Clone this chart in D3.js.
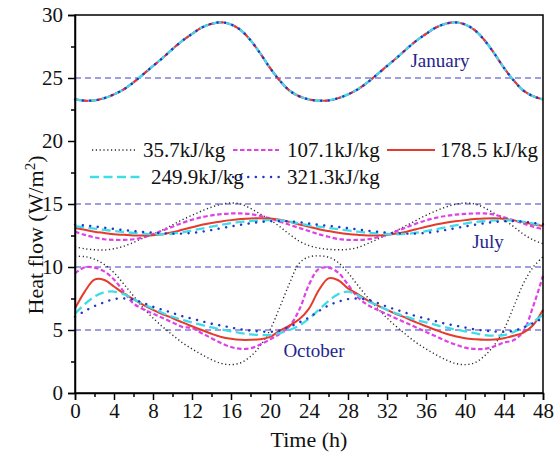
<!DOCTYPE html>
<html>
<head>
<meta charset="utf-8">
<script src="https://cdn.jsdelivr.net/npm/d3@7/dist/d3.min.js"></script>
<style>
  html, body { margin: 0; padding: 0; background: #fff; }
  svg { display: block; font-family: "Liberation Serif", "Times New Roman", serif; }
</style>
</head>
<body>
<svg id="chart" width="555" height="452"></svg>
<script>
// Hourly sampling over two days
const hours = d3.range(0, 49);

// Moisture content of each wall mix
const mixes = ["35.7kJ/kg", "107.1kJ/kg", "178.5 kJ/kg", "249.9kJ/kg", "321.3kJ/kg"];

// January: all five mixes give the same heat flow (W/m2)
const janFlow = [23.3, 23.2, 23.22, 23.4, 23.7, 24.1, 24.65, 25.3, 25.95, 26.6, 27.3, 27.95, 28.5, 29.0, 29.3, 29.42, 29.25, 28.8, 28.0, 26.95, 25.8, 24.8, 24.0, 23.55,
                 23.3, 23.2, 23.22, 23.4, 23.7, 24.1, 24.65, 25.3, 25.95, 26.6, 27.3, 27.95, 28.5, 29.0, 29.3, 29.42, 29.25, 28.8, 28.0, 26.95, 25.8, 24.8, 24.0, 23.55, 23.3];

// July heat flow per mix
const jul357  = [11.6, 11.45, 11.37, 11.35, 11.45, 11.65, 11.95, 12.3, 12.6, 12.95, 13.35, 13.75, 14.1, 14.45, 14.75, 14.98, 15.08, 15.0, 14.65, 14.2, 13.75, 13.2, 12.6, 12.05,
                 11.7, 11.5, 11.4, 11.37, 11.4, 11.55, 11.85, 12.2, 12.55, 12.9, 13.3, 13.7, 14.1, 14.45, 14.75, 14.98, 15.08, 15.0, 14.7, 14.25, 13.75, 13.2, 12.6, 12.15, 11.85];
const jul1071 = [12.8, 12.55, 12.35, 12.2, 12.15, 12.15, 12.2, 12.35, 12.6, 12.9, 13.2, 13.5, 13.75, 13.95, 14.1, 14.2, 14.25, 14.25, 14.2, 14.05, 13.85, 13.6, 13.35, 13.1,
                 12.85, 12.6, 12.4, 12.22, 12.15, 12.15, 12.2, 12.35, 12.55, 12.85, 13.15, 13.45, 13.7, 13.9, 14.05, 14.15, 14.22, 14.25, 14.25, 14.15, 13.95, 13.7, 13.45, 13.2, 13.0];
const jul1785 = [13.1, 12.95, 12.8, 12.7, 12.6, 12.55, 12.5, 12.5, 12.52, 12.6, 12.75, 12.95, 13.15, 13.35, 13.5, 13.62, 13.72, 13.8, 13.85, 13.87, 13.85, 13.75, 13.58, 13.38,
                 13.2, 13.0, 12.85, 12.72, 12.62, 12.55, 12.5, 12.5, 12.55, 12.65, 12.8, 13.0, 13.2, 13.38, 13.52, 13.63, 13.72, 13.8, 13.85, 13.87, 13.82, 13.7, 13.55, 13.4, 13.25];
const jul2499 = [13.25, 13.15, 13.05, 12.95, 12.85, 12.78, 12.7, 12.65, 12.6, 12.6, 12.65, 12.75, 12.9, 13.05, 13.2, 13.35, 13.48, 13.58, 13.65, 13.7, 13.72, 13.7, 13.6, 13.45,
                 13.3, 13.2, 13.1, 13.0, 12.9, 12.8, 12.72, 12.66, 12.62, 12.6, 12.63, 12.72, 12.85, 13.0, 13.15, 13.3, 13.45, 13.57, 13.65, 13.7, 13.72, 13.68, 13.58, 13.45, 13.3];
const jul3213 = [13.35, 13.3, 13.22, 13.12, 13.02, 12.93, 12.85, 12.78, 12.72, 12.68, 12.65, 12.65, 12.7, 12.8, 12.93, 13.08, 13.22, 13.35, 13.47, 13.57, 13.63, 13.65, 13.62, 13.55,
                 13.45, 13.35, 13.27, 13.18, 13.08, 12.98, 12.88, 12.8, 12.73, 12.68, 12.65, 12.65, 12.7, 12.8, 12.93, 13.08, 13.22, 13.35, 13.47, 13.57, 13.63, 13.65, 13.6, 13.5, 13.4];

// October heat flow per mix
const oct357  = [10.85, 10.82, 10.62, 10.2, 9.55, 8.65, 7.7, 6.75, 5.95, 5.25, 4.6, 4.0, 3.5, 3.05, 2.65, 2.35, 2.25, 2.4, 2.9, 3.75, 5.0, 6.8, 8.7, 10.3,
                 10.8, 10.88, 10.78, 10.35, 9.55, 8.55, 7.6, 6.75, 5.95, 5.25, 4.6, 4.0, 3.5, 3.05, 2.65, 2.35, 2.25, 2.4, 2.95, 3.8, 5.05, 6.85, 8.7, 10.0, 10.8];
const oct1071 = [9.5, 9.98, 9.95, 9.65, 9.0, 8.05, 7.1, 6.65, 6.3, 5.95, 5.6, 5.25, 5.15, 4.75, 4.35, 3.95, 3.65, 3.5, 3.55, 3.85, 4.25, 4.7, 5.3, 6.6,
                 8.6, 9.85, 9.95, 9.55, 8.6, 7.6, 7.0, 6.6, 6.25, 5.9, 5.55, 5.2, 4.85, 4.5, 4.15, 3.85, 3.6, 3.5, 3.5, 3.7, 4.0, 4.2, 4.9, 6.9, 9.3];
const oct1785 = [6.7, 8.05, 9.0, 8.97, 8.45, 7.9, 7.45, 7.0, 6.6, 6.25, 5.95, 5.6, 5.3, 5.0, 4.7, 4.45, 4.3, 4.22, 4.22, 4.27, 4.45, 4.95, 5.35, 5.85,
                 6.7, 8.15, 9.1, 8.95, 8.3, 7.85, 7.35, 6.95, 6.6, 6.25, 5.95, 5.6, 5.3, 5.0, 4.72, 4.5, 4.35, 4.27, 4.22, 4.25, 4.35, 4.55, 4.8, 5.4, 6.6];
const oct2499 = [6.3, 7.05, 7.65, 8.0, 8.05, 7.85, 7.45, 7.05, 6.7, 6.35, 6.05, 5.8, 5.6, 5.4, 5.2, 5.05, 4.9, 4.75, 4.65, 4.6, 4.6, 4.75, 5.0, 5.35,
                 5.9, 6.6, 7.3, 7.85, 8.05, 7.75, 7.3, 6.95, 6.6, 6.3, 6.05, 5.8, 5.6, 5.4, 5.2, 5.05, 4.9, 4.75, 4.6, 4.55, 4.6, 4.85, 5.2, 5.65, 6.2];
const oct3213 = [6.05, 6.5, 6.9, 7.2, 7.45, 7.5, 7.4, 7.15, 6.85, 6.6, 6.35, 6.1, 5.9, 5.7, 5.5, 5.35, 5.2, 5.05, 4.95, 4.88, 4.85, 4.95, 5.25, 5.6,
                 6.0, 6.5, 6.95, 7.25, 7.45, 7.5, 7.4, 7.15, 6.85, 6.6, 6.35, 6.1, 5.9, 5.7, 5.5, 5.35, 5.2, 5.05, 4.95, 4.88, 4.85, 4.95, 5.2, 5.55, 5.95];

// Axis ticks and guide levels
const xTicks = [0, 4, 8, 12, 16, 20, 24, 28, 32, 36, 40, 44, 48];
const yTicks = [0, 5, 10, 15, 20, 25, 30];
const guideLevels = [5, 10, 15, 25];
const monthLabels = ["January", "July", "October"];

// ---- drawing ----
const svg = d3.select("#chart");
const W = 555, H = 452;
const margin = { left: 75, right: 12, top: 15, bottom: 59 };

const x = d3.scaleLinear().domain([0, 48]).range([margin.left, W - margin.right]);
const y = d3.scaleLinear().domain([0, 30]).range([H - margin.bottom, margin.top]);

const styles = [
  { color: "#2a2a2a", width: 1.4, dash: "1.2,2.6", cap: "butt" },
  { color: "#e040e6", width: 2.2, dash: "4.5,2.5", cap: "butt" },
  { color: "#e63a2c", width: 2.0, dash: null, cap: "butt" },
  { color: "#3fdde9", width: 2.3, dash: "9,4.5", cap: "butt" },
  { color: "#2236c4", width: 2.4, dash: "0.1,7.5", cap: "round" }
];

const julSeries = [jul357, jul1071, jul1785, jul2499, jul3213];
const octSeries = [oct357, oct1071, oct1785, oct2499, oct3213];

// dashed guide lines
svg.append("g").selectAll("line").data(guideLevels).join("line")
  .attr("x1", x(0)).attr("x2", x(48))
  .attr("y1", d => y(d)).attr("y2", d => y(d))
  .attr("stroke", "#7f7fd6").attr("stroke-width", 1.3)
  .attr("stroke-dasharray", "6,4");

const line = d3.line()
  .x((d, i) => x(hours[i]))
  .y(d => y(d))
  .curve(d3.curveCatmullRom.alpha(0.5));

const curves = svg.append("g");
mixes.forEach((m, k) => {
  const s = styles[k];
  [janFlow, julSeries[k], octSeries[k]].forEach(vals => {
    curves.append("path")
      .datum(vals)
      .attr("d", line)
      .attr("fill", "none")
      .attr("stroke", s.color)
      .attr("stroke-width", s.width)
      .attr("stroke-linecap", s.cap)
      .attr("stroke-dasharray", s.dash);
  });
});

// month labels
const monthPos = [[440, 67], [488, 248], [314, 357]];
svg.append("g").selectAll("text").data(monthLabels).join("text")
  .attr("x", (d, i) => monthPos[i][0])
  .attr("y", (d, i) => monthPos[i][1])
  .attr("text-anchor", "middle")
  .attr("font-size", 19)
  .attr("fill", "#25258c")
  .text(d => d);

// legend
const legendItems = [
  { x: 92, y: 150, len: 43 },
  { x: 233, y: 150, len: 46 },
  { x: 387, y: 150, len: 48 },
  { x: 90, y: 177, len: 53 },
  { x: 233, y: 177, len: 46 }
];
const lg = svg.append("g");
mixes.forEach((m, k) => {
  const p = legendItems[k], s = styles[k];
  lg.append("line")
    .attr("x1", p.x).attr("x2", p.x + p.len)
    .attr("y1", p.y).attr("y2", p.y)
    .attr("stroke", s.color).attr("stroke-width", s.width)
    .attr("stroke-linecap", s.cap)
    .attr("stroke-dasharray", s.dash);
  lg.append("text")
    .attr("x", p.x + p.len + (k === 2 ? 5 : 8))
    .attr("y", p.y + 7)
    .attr("font-size", 21)
    .attr("fill", "#111")
    .text(m);
});

// frame
svg.append("rect")
  .attr("x", x(0)).attr("y", y(30))
  .attr("width", x(48) - x(0)).attr("height", y(0) - y(30))
  .attr("fill", "none").attr("stroke", "#000").attr("stroke-width", 1.5);

// x axis
const xAxis = svg.append("g")
  .attr("transform", `translate(0,${y(0)})`)
  .call(d3.axisBottom(x).tickValues(xTicks).tickSize(7).tickPadding(3).tickFormat(d3.format("d")));
svg.append("g")
  .attr("transform", `translate(0,${y(0)})`)
  .call(d3.axisBottom(x).tickValues(d3.range(2, 48, 4)).tickSize(4).tickFormat(""))
  .call(g => g.select(".domain").remove());

// y axis
const yAxis = svg.append("g")
  .attr("transform", `translate(${x(0)},0)`)
  .call(d3.axisLeft(y).tickValues(yTicks).tickSize(7).tickPadding(5).tickFormat(d3.format("d")));
svg.append("g")
  .attr("transform", `translate(${x(0)},0)`)
  .call(d3.axisLeft(y).tickValues(d3.range(2.5, 30, 5)).tickSize(4).tickFormat(""))
  .call(g => g.select(".domain").remove());

svg.selectAll(".tick line").attr("stroke", "#000").attr("stroke-width", 1.5);
svg.selectAll(".domain").attr("stroke", "#000").attr("stroke-width", 1.5);
svg.selectAll(".tick text")
  .attr("font-family", "Liberation Serif, Times New Roman, serif")
  .attr("font-size", 21).attr("fill", "#111");

// axis titles
svg.append("text")
  .attr("x", (x(0) + x(48)) / 2)
  .attr("y", 447)
  .attr("text-anchor", "middle")
  .attr("font-size", 22)
  .attr("fill", "#111")
  .text("Time (h)");

const yt = svg.append("text")
  .attr("transform", `translate(43,235) rotate(-90)`)
  .attr("text-anchor", "middle")
  .attr("font-size", 22)
  .attr("fill", "#111");
yt.append("tspan").text("Heat flow (W/m");
yt.append("tspan").attr("dy", -8).attr("font-size", 15).text("2");
yt.append("tspan").attr("dy", 8).text(")");
</script>
</body>
</html>
